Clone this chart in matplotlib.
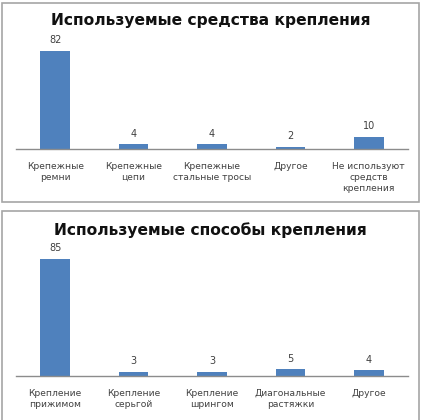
import matplotlib
matplotlib.use("Agg")
import matplotlib.pyplot as plt
from matplotlib.patches import Rectangle

W, H = 424, 420

title1 = "Используемые средства крепления"
cats1 = ["Крепежные\nремни", "Крепежные\nцепи", "Крепежные\nстальные тросы", "Другое",
         "Не используют\nсредств\nкрепления"]
vals1 = [82, 4, 4, 2, 10]

title2 = "Используемые способы крепления"
cats2 = ["Крепление\nприжимом", "Крепление\nсерьгой", "Крепление\nшрингом",
         "Диагональные\nрастяжки", "Другое"]
vals2 = [85, 3, 3, 5, 4]

BAR = "#4F81BD"
plt.rcParams['font.family'] = ['DejaVu Sans']

fig = plt.figure(figsize=(W / 100, H / 100), dpi=100)
fig.patch.set_facecolor("white")

def px_rect(x0, y0, x1, y1):
    return [x0 / W, 1 - y1 / H, (x1 - x0) / W, (y1 - y0) / H]

# frames
for (x0, y0, x1, y1) in [(2, 3, 419, 202), (2, 211, 419, 425)]:
    fig.patches.append(Rectangle((x0 / W, 1 - y1 / H), (x1 - x0) / W, (y1 - y0) / H,
                                 transform=fig.transFigure, fill=False,
                                 edgecolor="#A6A6A6", linewidth=1.2))

def draw(title, cats, vals, base_y, top_y, ymax, title_y):
    ax = fig.add_axes(px_rect(16, top_y, 408, base_y))
    x = list(range(len(cats)))
    bars = ax.bar(x, vals, width=0.38, color=BAR)
    ax.set_xlim(-0.5, len(cats) - 0.5)
    ax.set_ylim(0, ymax)
    for s in ["left", "right", "top"]:
        ax.spines[s].set_visible(False)
    ax.spines["bottom"].set_color("#8C8C8C")
    ax.spines["bottom"].set_linewidth(1.0)
    ax.set_yticks([])
    ax.set_xticks(x)
    ax.set_xticklabels(cats, fontsize=6.6, color="#404040", linespacing=1.35)
    ax.tick_params(axis="x", length=0, pad=9)
    for b, v in zip(bars, vals):
        ax.annotate(str(v), (b.get_x() + b.get_width() / 2, v), xytext=(0, 4),
                    textcoords="offset points", ha="center", va="bottom",
                    fontsize=7, color="#404040")
    ax.patch.set_visible(False)
    fig.text(0.5 * (2 + 419) / W, 1 - title_y / H, title, ha="center", va="center",
             fontsize=11.2, fontweight="bold", color="#111111")

draw(title1, cats1, vals1, base_y=149, top_y=42, ymax=82 * 107 / 98, title_y=21)
draw(title2, cats2, vals2, base_y=376, top_y=250, ymax=85 * 126 / 117, title_y=230)

fig.savefig("out.png", dpi=100, facecolor="white")
